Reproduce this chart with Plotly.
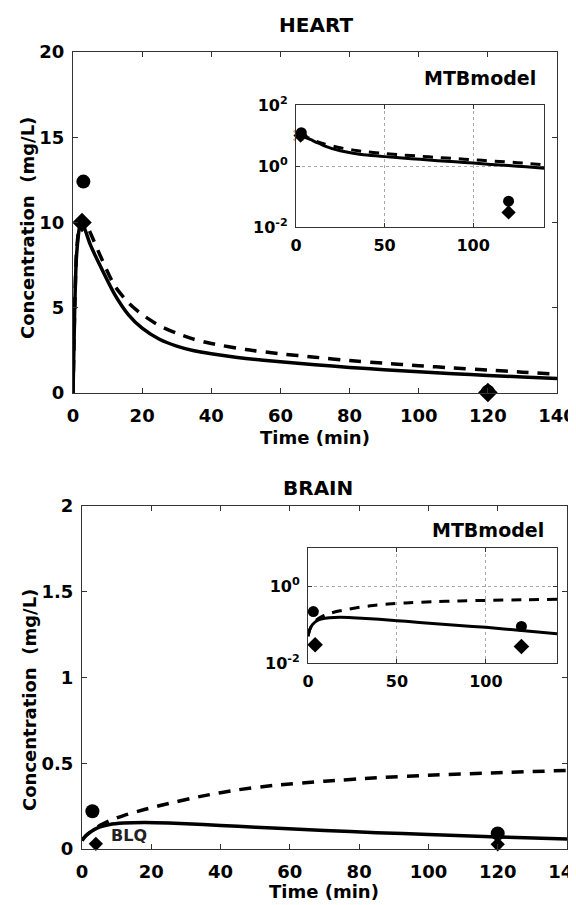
import plotly.graph_objects as go

# ---------------- data ----------------
heart_t_solid = [0, 0.5, 1, 2, 2.6, 5, 8, 12, 16, 20, 25, 30, 35, 40, 45, 50, 60, 70, 80, 90, 100, 110, 120, 130, 140]
heart_solid = [0, 5, 8, 9.8, 10.0, 8.7, 7.4, 5.8, 4.6, 3.8, 3.15, 2.75, 2.48, 2.3, 2.15, 2.03, 1.83, 1.66, 1.5, 1.37, 1.25, 1.13, 1.03, 0.94, 0.85]
heart_t_dash = [0, 0.5, 1, 2, 3, 5, 8, 12, 16, 20, 25, 30, 35, 40, 50, 60, 70, 80, 90, 100, 110, 120, 130, 140]
heart_dash = [0, 5, 8.2, 10.0, 10.2, 9.4, 8.0, 6.3, 5.3, 4.6, 3.95, 3.5, 3.15, 2.9, 2.55, 2.3, 2.1, 1.9, 1.75, 1.6, 1.47, 1.35, 1.22, 1.1]
heart_obs_circle_t = [3, 120]
heart_obs_circle = [12.4, 0.07]
heart_obs_diamond_t = [2.6, 120]
heart_obs_diamond = [10.0, 0.03]
heart_red_t = [1.5]
heart_red = [10.0]

brain_t = [0, 1, 2.5, 5, 8, 12, 18, 25, 35, 45, 55, 70, 85, 100, 120, 140]
brain_solid = [0.05, 0.075, 0.10, 0.127, 0.143, 0.151, 0.155, 0.152, 0.143, 0.132, 0.122, 0.108, 0.095, 0.085, 0.07, 0.058]
brain_dash = [0.05, 0.075, 0.10, 0.135, 0.165, 0.195, 0.23, 0.265, 0.31, 0.345, 0.37, 0.395, 0.415, 0.43, 0.445, 0.458]
brain_obs_circle_t = [3, 120]
brain_obs_circle = [0.22, 0.09]
brain_obs_diamond_t = [4, 120]
brain_obs_diamond = [0.03, 0.027]

x_ticks = [0, 20, 40, 60, 80, 100, 120, 140]
heart_y_ticks = [0, 5, 10, 15, 20]
brain_y_ticks = [0, 0.5, 1, 1.5, 2]
brain_y_ticktext = ["0", "0.5", "1", "1.5", "2"]
inset_x_ticks = [0, 50, 100]
heart_inset_y_ticks = [0.01, 1, 100]
heart_inset_y_text = ["10<sup>-2</sup>", "10<sup>0</sup>", "10<sup>2</sup>"]
brain_inset_y_ticks = [0.01, 1]
brain_inset_y_text = ["10<sup>-2</sup>", "10<sup>0</sup>"]

FONT = "DejaVu Sans"
OFF = 8                      # page body margin
W, H = 576 - OFF, 905 - OFF  # figure size so the page fits the window

def px_x(p):
    return (p - OFF) / W

def px_y(p):
    return 1 - (p - OFF) / H

fig = go.Figure()

solid_line = dict(color="black", width=3.5, shape="spline", smoothing=0.6)
dash_line = dict(color="black", width=3.5, dash="12px,9px", shape="spline", smoothing=0.6)
inset_solid = dict(color="black", width=3, shape="spline", smoothing=0.6)
inset_dash = dict(color="black", width=3, dash="10px,8px", shape="spline", smoothing=0.6)

def add_panel(xa, ya, ts, s, td, d, ct, c, dt, dv, lines, csize, dsize, start=0):
    sl, dl = lines
    fig.add_trace(go.Scatter(x=ts[start:], y=s[start:], mode="lines", line=sl, xaxis=xa, yaxis=ya, showlegend=False))
    fig.add_trace(go.Scatter(x=td[start:], y=d[start:], mode="lines", line=dl, xaxis=xa, yaxis=ya, showlegend=False))
    fig.add_trace(go.Scatter(x=dt, y=dv, mode="markers", marker=dict(symbol="diamond", size=dsize, color="black"),
                             xaxis=xa, yaxis=ya, showlegend=False, cliponaxis=False))
    fig.add_trace(go.Scatter(x=ct, y=c, mode="markers", marker=dict(symbol="circle", size=csize, color="black"),
                             xaxis=xa, yaxis=ya, showlegend=False, cliponaxis=False))

# heart main
add_panel("x", "y", heart_t_solid, heart_solid, heart_t_dash, heart_dash,
          heart_obs_circle_t, heart_obs_circle, heart_obs_diamond_t, heart_obs_diamond,
          (solid_line, dash_line), 14, 15)
# heart inset
fig.add_trace(go.Scatter(x=heart_red_t, y=heart_red, mode="markers",
                         marker=dict(symbol="x-thin-open", size=10, line=dict(color="red", width=2)),
                         xaxis="x2", yaxis="y2", showlegend=False, cliponaxis=False))
add_panel("x2", "y2", heart_t_solid, heart_solid, heart_t_dash, heart_dash,
          heart_obs_circle_t, heart_obs_circle, heart_obs_diamond_t, heart_obs_diamond,
          (inset_solid, inset_dash), 11, 11, start=3)
# brain main
add_panel("x3", "y3", brain_t, brain_solid, brain_t, brain_dash,
          brain_obs_circle_t, brain_obs_circle, brain_obs_diamond_t, brain_obs_diamond,
          (solid_line, dash_line), 14, 11)
# brain inset
add_panel("x4", "y4", brain_t, brain_solid, brain_t, brain_dash,
          brain_obs_circle_t, brain_obs_circle, brain_obs_diamond_t, brain_obs_diamond,
          (inset_solid, inset_dash), 11, 12)

main_tick = dict(family=FONT, size=18, color="black", weight="bold")
inset_tick = dict(family=FONT, size=16, color="black", weight="bold")

def main_axis(domain, rng, tickvals, ticktext=None, anchor=None, standoff=2):
    a = dict(domain=domain, range=rng, tickmode="array", tickvals=tickvals,
             showline=True, linecolor="#333", linewidth=1, mirror="ticks",
             ticks="inside", ticklen=5, tickcolor="#333", showgrid=False, zeroline=False,
             tickfont=main_tick, anchor=anchor, ticklabelstandoff=standoff, automargin=False,
             ticklabeloverflow="allow")
    if ticktext is not None:
        a["ticktext"] = ticktext
    return a

def inset_axis(domain, rng, tickvals, ticktext=None, anchor=None, typ="linear", standoff=2):
    a = dict(domain=domain, range=rng, type=typ, tickmode="array", tickvals=tickvals,
             showline=True, linecolor="#333", linewidth=1, mirror="ticks",
             ticks="inside", ticklen=4, tickcolor="#333", showgrid=True,
             gridcolor="#aaa", griddash="dot", gridwidth=1, zeroline=False,
             tickfont=inset_tick, anchor=anchor, ticklabelstandoff=standoff, automargin=False)
    if ticktext is not None:
        a["ticktext"] = ticktext
    return a

fig.update_layout(
    width=W, height=H,
    margin=dict(l=0, r=0, t=0, b=0, autoexpand=False),
    paper_bgcolor="white", plot_bgcolor="white",
    font=dict(family=FONT, color="black"),
    xaxis=main_axis([px_x(73), px_x(557)], [0, 140], x_ticks, anchor="y", standoff=6),
    yaxis=main_axis([px_y(393), px_y(52)], [0, 20], heart_y_ticks, anchor="x", standoff=4),
    xaxis2=inset_axis([px_x(296), px_x(544)], [0, 140], inset_x_ticks, anchor="y2", standoff=4),
    yaxis2=inset_axis([px_y(227), px_y(105)], [-2, 2], heart_inset_y_ticks, heart_inset_y_text,
                      anchor="x2", typ="log", standoff=4),
    xaxis3=main_axis([px_x(82), px_x(567)], [0, 140], x_ticks, anchor="y3", standoff=6),
    yaxis3=main_axis([px_y(849), px_y(506)], [0, 2], brain_y_ticks, brain_y_ticktext, anchor="x3", standoff=4),
    xaxis4=inset_axis([px_x(308), px_x(557)], [0, 140], inset_x_ticks, anchor="y4", standoff=4),
    yaxis4=inset_axis([px_y(663), px_y(548)], [-2, 1], brain_inset_y_ticks, brain_inset_y_text,
                      anchor="x4", typ="log", standoff=4),
)

bold = lambda s: dict(family=FONT, size=s, color="black", weight="bold")
ann = [
    dict(text="HEART", x=px_x(316), y=px_y(25), font=bold(20)),
    dict(text="BRAIN", x=px_x(318), y=px_y(488), font=bold(20)),
    dict(text="Time (min)", x=px_x(315), y=px_y(437), font=bold(18)),
    dict(text="Time (min)", x=px_x(324), y=px_y(891), font=bold(18)),
    dict(text="Concentration\u00a0 (mg/L)", x=px_x(27), y=px_y(228), font=bold(18), textangle=-90),
    dict(text="Concentration\u00a0 (mg/L)", x=px_x(29), y=px_y(700), font=bold(18), textangle=-90),
    dict(text="MTBmodel", x=px_x(480), y=px_y(78), font=bold(19)),
    dict(text="MTBmodel", x=px_x(488), y=px_y(530), font=bold(19)),
]
for a in ann:
    a.update(xref="paper", yref="paper", showarrow=False, xanchor="center", yanchor="middle")
fig.update_layout(annotations=ann)
fig.add_annotation(text="BLQ", x=13.7, y=0.08, xref="x3", yref="y3", showarrow=False,
                   xanchor="center", yanchor="middle",
                   font=dict(family=FONT, size=16, color="#222", weight="bold"))

fig.write_html("out.html", config={"displayModeBar": False})
